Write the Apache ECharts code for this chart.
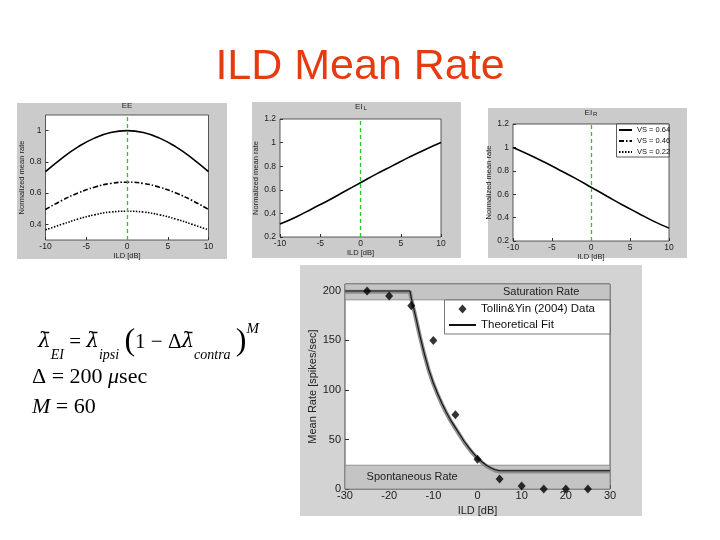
<!DOCTYPE html>
<html><head><meta charset="utf-8">
<script src="https://cdn.jsdelivr.net/npm/echarts@6/dist/echarts.min.js"></script>
<style>html,body{margin:0;padding:0;background:#fff}#c{width:720px;height:540px}</style>
</head><body><div id="c"></div>
<script>
// ---- data ----
const ildSmall = [-10, -8, -6, -4, -2, 0, 2, 4, 6, 8, 10];
const eeVS064 = [0.737, 0.823, 0.896, 0.952, 0.988, 1.0, 0.988, 0.952, 0.896, 0.823, 0.737];
const eeVS046 = [0.495, 0.553, 0.601, 0.638, 0.662, 0.670, 0.662, 0.638, 0.601, 0.553, 0.495];
const eeVS022 = [0.365, 0.400, 0.434, 0.461, 0.479, 0.484, 0.479, 0.461, 0.434, 0.400, 0.365];
const eiL = [0.31, 0.37, 0.44, 0.51, 0.585, 0.66, 0.735, 0.805, 0.875, 0.94, 1.0];
const eiR = [1.0, 0.94, 0.875, 0.805, 0.735, 0.66, 0.585, 0.51, 0.44, 0.37, 0.31];
const smallXTicks = [-10, -5, 0, 5, 10];
const eeYTicks = [0.4, 0.6, 0.8, 1];
const eiYTicks = [0.2, 0.4, 0.6, 0.8, 1, 1.2];
const legendVS = ['VS = 0.64', 'VS = 0.46', 'VS = 0.22'];

const dataILD = [-25, -20, -15, -10, -5, 0, 5, 10, 15, 20, 25];
const dataRate = [200, 195, 185, 150, 75, 30, 10, 3, 0, 0, 0];
const fitILD = [-30, -15.3, -15, -14, -13, -12, -11, -10, -9, -8, -7, -6, -5, -4, -3, -2, -1, 0, 1, 2, 3, 4, 5, 30];
const fitRate = [200, 200, 193, 174, 154, 136, 120, 107, 96, 86, 77, 69, 62, 55, 48, 42, 36.5, 31.5, 27.5, 24, 21.5, 19.5, 18.5, 18.5];
const bigXTicks = [-30, -20, -10, 0, 10, 20, 30];
const bigYTicks = [0, 50, 100, 150, 200];
const saturationBand = [191, 207];
const spontaneousBand = [0, 24];

const zip = (xs, ys) => xs.map((x, i) => [x, ys[i]]);
const fmt = v => (Math.abs(v - Math.round(v)) < 1e-9 ? String(Math.round(v)) : (Math.round(v * 10) / 10).toFixed(1));
const SANS = 'Liberation Sans, Arial, sans-serif';

function smallX(gi) {
  return {
    type: 'value', gridIndex: gi, min: -10, max: 10, interval: 5,
    name: 'ILD [dB]', nameLocation: 'middle', nameGap: 11,
    nameTextStyle: { fontSize: 7.5, color: '#222', fontFamily: SANS },
    axisLine: { show: false, onZero: false }, splitLine: { show: false },
    axisTick: { inside: true, length: 3, lineStyle: { color: '#333' }, customValues: smallXTicks },
    axisLabel: { fontSize: 8.5, color: '#222', margin: 2, fontFamily: SANS, customValues: smallXTicks, formatter: fmt }
  };
}
function smallY(gi, min, max, ticks) {
  return {
    type: 'value', gridIndex: gi, min: min, max: max,
    name: 'Normalized mean rate', nameLocation: 'middle', nameGap: 16,
    nameTextStyle: { fontSize: 7.5, color: '#222', fontFamily: SANS },
    axisLine: { show: false, onZero: false }, splitLine: { show: false },
    axisTick: { inside: true, length: 3, lineStyle: { color: '#333' }, customValues: ticks },
    axisLabel: { fontSize: 8.5, color: '#222', margin: 4, fontFamily: SANS, customValues: ticks, formatter: fmt }
  };
}
const greenLine = {
  silent: true, symbol: 'none', label: { show: false },
  lineStyle: { color: '#22cc22', type: [4, 3], width: 1.3 },
  data: [{ xAxis: 0 }]
};
// diamond centred in a 27x12 box so the legend icon keeps a small marker
const diamondIcon = 'path://M0 0M27 12M13.5 1.5L17.5 6L13.5 10.5L9.5 6Z';

const option = {
  backgroundColor: '#ffffff',
  animation: false,
  grid: [
    { left: 45.5, top: 115, width: 163, height: 125, show: true, backgroundColor: '#fff', borderColor: '#333', borderWidth: 0.8 },
    { left: 280, top: 119, width: 161, height: 118, show: true, backgroundColor: '#fff', borderColor: '#333', borderWidth: 0.8 },
    { left: 513, top: 124, width: 156, height: 117, show: true, backgroundColor: '#fff', borderColor: '#333', borderWidth: 0.8 },
    { left: 345, top: 284, width: 265, height: 205, show: true, backgroundColor: '#fff', borderColor: '#222', borderWidth: 0.8 }
  ],
  xAxis: [
    smallX(0), smallX(1), smallX(2),
    {
      type: 'value', gridIndex: 3, min: -30, max: 30,
      name: 'ILD [dB]', nameLocation: 'middle', nameGap: 16,
      nameTextStyle: { fontSize: 11, color: '#222', fontFamily: SANS },
      axisLine: { show: false, onZero: false }, splitLine: { show: false },
      axisTick: { inside: true, length: 4, lineStyle: { color: '#333' }, customValues: bigXTicks },
      axisLabel: { fontSize: 11, color: '#222', margin: 1, fontFamily: SANS, customValues: bigXTicks, formatter: fmt }
    }
  ],
  yAxis: [
    smallY(0, 0.3, 1.1, eeYTicks), smallY(1, 0.2, 1.2, eiYTicks), smallY(2, 0.2, 1.2, eiYTicks),
    {
      type: 'value', gridIndex: 3, min: 0, max: 207,
      name: 'Mean Rate [spikes/sec]', nameLocation: 'middle', nameGap: 23,
      nameTextStyle: { fontSize: 11, color: '#222', fontFamily: SANS },
      axisLine: { show: false, onZero: false }, splitLine: { show: false },
      axisTick: { inside: true, length: 4, lineStyle: { color: '#333' }, customValues: bigYTicks },
      axisLabel: { fontSize: 11, color: '#222', margin: 4, fontFamily: SANS, customValues: bigYTicks, formatter: fmt }
    }
  ],
  legend: [
    {
      data: legendVS, orient: 'vertical', left: 618, top: 126, z: 12,
      itemGap: 3, itemWidth: 13, itemHeight: 8, padding: 0, textGap: 2, selectedMode: false,
      itemStyle: { opacity: 0 },
      textStyle: { fontSize: 7.5, color: '#111', fontFamily: SANS }
    },
    {
      data: [
        { name: 'Tollin&Yin (2004) Data', icon: diamondIcon },
        { name: 'Theoretical Fit', itemStyle: { opacity: 0 } }
      ],
      orient: 'vertical', left: 448, top: 303, z: 12,
      itemGap: 4, itemWidth: 27, itemHeight: 12, padding: 0, textGap: 3, selectedMode: false,
      textStyle: { fontSize: 11.5, color: '#111', fontFamily: SANS }
    }
  ],
  series: [
    { name: legendVS[0], type: 'line', xAxisIndex: 0, yAxisIndex: 0, smooth: true, symbol: 'none',
      data: zip(ildSmall, eeVS064), lineStyle: { color: '#000', width: 1.6 }, itemStyle: { color: '#000' }, markLine: greenLine },
    { name: legendVS[1], type: 'line', xAxisIndex: 0, yAxisIndex: 0, smooth: true, symbol: 'none',
      data: zip(ildSmall, eeVS046), lineStyle: { color: '#000', width: 1.6, type: [5, 2, 1.5, 2] }, itemStyle: { color: '#000' } },
    { name: legendVS[2], type: 'line', xAxisIndex: 0, yAxisIndex: 0, smooth: true, symbol: 'none',
      data: zip(ildSmall, eeVS022), lineStyle: { color: '#000', width: 1.6, type: [1.5, 1.5] }, itemStyle: { color: '#000' } },
    { name: 'EI_L', type: 'line', xAxisIndex: 1, yAxisIndex: 1, smooth: true, symbol: 'none',
      data: zip(ildSmall, eiL), lineStyle: { color: '#000', width: 1.6 }, markLine: greenLine },
    { name: 'EI_R', type: 'line', xAxisIndex: 2, yAxisIndex: 2, smooth: true, symbol: 'none',
      data: zip(ildSmall, eiR), lineStyle: { color: '#000', width: 1.6 }, markLine: greenLine },
    { name: 'fit shadow', type: 'line', xAxisIndex: 3, yAxisIndex: 3, symbol: 'none', z: 2,
      data: zip(fitILD, fitRate.map(v => v - 0.8)), lineStyle: { color: '#8c8c8c', width: 4 },
      markArea: {
        silent: true,
        itemStyle: { color: '#c4c4c4', borderColor: '#808080', borderWidth: 0.8 },
        label: { show: true, color: '#222', fontSize: 11, fontFamily: SANS, formatter: '{b}' },
        data: [
          [{ name: 'Saturation Rate', yAxis: saturationBand[0], label: { position: 'insideRight', distance: 31 } }, { yAxis: saturationBand[1] }],
          [{ name: 'Spontaneous Rate', yAxis: spontaneousBand[0], label: { position: 'insideLeft', distance: 22 } }, { yAxis: spontaneousBand[1] }]
        ]
      } },
    { name: 'Theoretical Fit', type: 'line', xAxisIndex: 3, yAxisIndex: 3, symbol: 'none', z: 3,
      data: zip(fitILD, fitRate), lineStyle: { color: '#111', width: 1.1 }, itemStyle: { color: '#111' } },
    { name: 'Tollin&Yin (2004) Data', type: 'scatter', xAxisIndex: 3, yAxisIndex: 3, z: 4,
      symbol: 'diamond', symbolSize: [8, 9], data: zip(dataILD, dataRate), itemStyle: { color: '#000' } }
  ],
  graphic: [
    // gray figure panels
    { type: 'rect', z: -10, shape: { x: 17, y: 103, width: 210, height: 156 }, style: { fill: '#cbcbcb' } },
    { type: 'rect', z: -10, shape: { x: 252, y: 102, width: 209, height: 156 }, style: { fill: '#cbcbcb' } },
    { type: 'rect', z: -10, shape: { x: 488, y: 108, width: 199, height: 150 }, style: { fill: '#cbcbcb' } },
    { type: 'rect', z: -10, shape: { x: 300, y: 265, width: 342, height: 251 }, style: { fill: '#d3d3d3' } },
    // legend boxes
    { type: 'rect', z: 11, shape: { x: 616.5, y: 124, width: 52.5, height: 33 }, style: { fill: '#fff', stroke: '#333', lineWidth: 0.8 } },
    { type: 'rect', z: 11, shape: { x: 444.5, y: 300, width: 165.5, height: 34 }, style: { fill: '#fff', stroke: '#555', lineWidth: 0.8 } },
    // titles
    { type: 'text', z: 20, style: { x: 360, y: 67, text: 'ILD Mean Rate', align: 'center', verticalAlign: 'middle',
        font: 'normal 43px Liberation Sans, Arial, sans-serif', fill: '#e63a10' } },
    { type: 'text', z: 20, style: { x: 127, y: 106, text: 'EE', align: 'center', verticalAlign: 'middle',
        font: 'normal 8px Liberation Sans, Arial, sans-serif', fill: '#222' } },
    { type: 'text', z: 20, style: { x: 361, y: 107, text: 'EI{s|L}', align: 'center', verticalAlign: 'middle',
        font: 'normal 8px Liberation Sans, Arial, sans-serif', fill: '#222',
        rich: { s: { fontSize: 6, verticalAlign: 'bottom', lineHeight: 6, fill: '#222', padding: [0, 0, 0, 1] } } } },
    { type: 'text', z: 20, style: { x: 591, y: 113, text: 'EI{s|R}', align: 'center', verticalAlign: 'middle',
        font: 'normal 8px Liberation Sans, Arial, sans-serif', fill: '#222',
        rich: { s: { fontSize: 6, verticalAlign: 'bottom', lineHeight: 6, fill: '#222', padding: [0, 0, 0, 1] } } } },
    // formula
    { type: 'text', z: 20, style: { x: 38, y: 342, verticalAlign: 'middle', fill: '#000',
        text: '{l|λ̄}{sub|EI}{n| = }{l|λ̄}{sub|ipsi}{n| }{p|(}{n|1 − Δ}{l|λ̄}{sub|contra}{n| }{p|)}{sup|M}',
        font: 'normal 21px Liberation Serif, Times New Roman, serif',
        rich: {
          l: { fontSize: 20, fontStyle: 'italic', fontFamily: 'DejaVu Serif, serif', lineHeight: 40, verticalAlign: 'middle' },
          n: { fontSize: 21, fontFamily: 'Liberation Serif, serif', lineHeight: 40, verticalAlign: 'middle' },
          p: { fontSize: 32, fontFamily: 'Liberation Serif, serif', lineHeight: 40, verticalAlign: 'middle' },
          sub: { fontSize: 14, fontStyle: 'italic', fontFamily: 'Liberation Serif, serif', lineHeight: 25, verticalAlign: 'bottom' },
          sup: { fontSize: 15, fontStyle: 'italic', fontFamily: 'Liberation Serif, serif', lineHeight: 12, verticalAlign: 'top' }
        } } },
    { type: 'text', z: 20, style: { x: 32, y: 377, verticalAlign: 'middle', fill: '#000',
        text: 'Δ = 200 {i|μ}sec', font: 'normal 22px Liberation Serif, Times New Roman, serif',
        rich: { i: { fontSize: 22, fontStyle: 'italic', fontFamily: 'Liberation Serif, serif' } } } },
    { type: 'text', z: 20, style: { x: 32, y: 407, verticalAlign: 'middle', fill: '#000',
        text: '{i|M} = 60', font: 'normal 22px Liberation Serif, Times New Roman, serif',
        rich: { i: { fontSize: 22, fontStyle: 'italic', fontFamily: 'Liberation Serif, serif' } } } }
  ]
};
const chart = echarts.init(document.getElementById('c'), null, { renderer: 'canvas' });
chart.setOption(option);
</script></body></html>
